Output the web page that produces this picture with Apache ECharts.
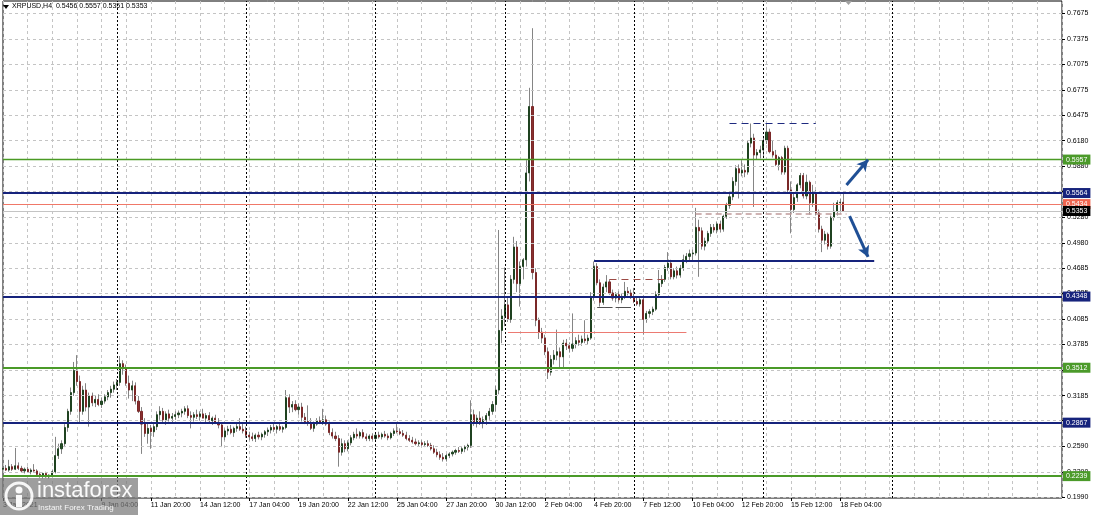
<!DOCTYPE html>
<html><head><meta charset="utf-8">
<script src="https://cdn.jsdelivr.net/npm/echarts@6/dist/echarts.min.js"></script>
<style>html,body{margin:0;padding:0;background:#fff;}#c{width:1095px;height:515px;}</style>
</head><body><div id="c"></div>
<script>
// ---------- DATA ----------
const symbolName = 'XRPUSD,H4';
const lastQuote = ['0.5456', '0.5557', '0.5351', '0.5353'];
const startTimeUTC = Date.UTC(2021, 0, 3, 20, 0);   // first visible H4 bar
const barHours = 4;
const totalBars = 345;                               // visible slots incl. right shift area

// H4 candles: [open, high, low, close]
const candles = [
[.232,.236,.229,.233],[.233,.237,.230,.231],[.231,.243,.229,.235],[.235,.238,.230,.232],[.232,.257,.231,.236],
[.236,.240,.231,.233],[.233,.236,.228,.230],[.230,.234,.227,.232],[.232,.235,.228,.229],[.229,.233,.226,.231],
[.231,.238,.229,.230],[.230,.232,.224,.226],[.226,.229,.222,.224],[.224,.228,.221,.227],[.227,.229,.222,.223],
[.223,.226,.221,.225],[.225,.231,.223,.229],[.229,.270,.227,.248],[.248,.262,.244,.256],[.256,.266,.250,.262],
[.262,.285,.258,.281],[.281,.303,.276,.300],[.300,.328,.296,.322],[.322,.358,.318,.348],[.348,.366,.330,.335],
[.335,.342,.287,.300],[.300,.330,.296,.325],[.325,.333,.300,.305],[.305,.322,.282,.318],[.318,.322,.306,.310],
[.310,.318,.305,.314],[.314,.320,.306,.308],[.308,.316,.304,.312],[.312,.320,.309,.317],[.317,.325,.313,.322],
[.322,.330,.316,.326],[.326,.335,.322,.331],[.331,.338,.325,.334],[.334,.365,.330,.356],[.356,.360,.343,.350],
[.350,.355,.330,.333],[.333,.342,.315,.325],[.325,.336,.312,.330],[.330,.334,.308,.312],[.312,.318,.298,.300],
[.300,.305,.250,.285],[.285,.292,.270,.274],[.274,.286,.262,.280],[.280,.284,.256,.276],[.276,.285,.270,.282],
[.282,.300,.278,.296],[.296,.306,.290,.300],[.300,.304,.286,.290],[.290,.300,.284,.297],[.297,.302,.288,.292],
[.292,.298,.286,.294],[.294,.300,.290,.296],[.296,.301,.292,.298],[.298,.303,.293,.300],[.300,.306,.296,.303],
[.303,.307,.292,.295],[.295,.300,.280,.293],[.293,.299,.288,.296],[.296,.302,.291,.294],[.294,.300,.289,.297],
[.297,.303,.292,.292],[.292,.298,.287,.295],[.295,.299,.286,.289],[.289,.294,.284,.292],[.292,.296,.285,.287],
[.287,.292,.280,.284],[.284,.287,.258,.270],[.270,.280,.266,.277],[.277,.283,.272,.279],[.279,.284,.273,.275],
[.275,.282,.270,.280],[.280,.286,.276,.282],[.282,.292,.277,.279],[.279,.285,.274,.277],[.277,.282,.269,.272],
[.272,.276,.266,.270],[.270,.275,.265,.268],[.268,.274,.264,.272],[.272,.276,.267,.270],[.270,.275,.266,.273],
[.273,.278,.269,.276],[.276,.281,.271,.278],[.278,.284,.274,.281],[.281,.286,.276,.279],[.279,.284,.274,.282],
[.282,.286,.277,.279],[.279,.283,.275,.281],[.281,.325,.279,.316],[.316,.320,.298,.305],[.305,.312,.299,.308],
[.308,.313,.300,.302],[.302,.309,.296,.305],[.305,.310,.288,.293],[.293,.298,.285,.288],[.288,.307,.283,.286],
[.286,.292,.278,.280],[.280,.288,.276,.285],[.285,.292,.283,.289],[.289,.294,.285,.287],[.287,.303,.284,.290],
[.290,.295,.283,.285],[.285,.288,.272,.275],[.275,.280,.268,.271],[.271,.276,.265,.268],[.268,.272,.235,.252],
[.252,.268,.248,.262],[.262,.266,.252,.256],[.256,.266,.253,.263],[.263,.272,.260,.269],[.269,.276,.266,.273],
[.273,.280,.268,.271],[.271,.277,.268,.275],[.275,.279,.268,.270],[.270,.274,.265,.268],[.268,.273,.265,.271],
[.271,.274,.266,.268],[.268,.275,.266,.272],[.272,.276,.268,.270],[.270,.275,.267,.273],[.273,.277,.269,.271],
[.271,.274,.266,.269],[.269,.276,.267,.274],[.274,.280,.271,.277],[.277,.285,.274,.276],[.276,.280,.272,.274],
[.274,.278,.270,.272],[.272,.276,.266,.268],[.268,.272,.264,.266],[.266,.270,.262,.264],[.264,.268,.260,.262],
[.262,.266,.259,.263],[.263,.266,.259,.261],[.261,.265,.258,.262],[.262,.266,.258,.260],[.260,.263,.254,.256],
[.256,.260,.250,.252],[.252,.256,.246,.249],[.249,.253,.243,.246],[.246,.251,.241,.244],[.244,.250,.241,.248],
[.248,.252,.245,.250],[.250,.254,.247,.252],[.252,.256,.249,.254],[.254,.258,.251,.253],[.253,.258,.250,.256],
[.256,.260,.252,.258],[.258,.262,.254,.260],[.260,.313,.257,.296],[.296,.302,.283,.286],[.286,.296,.281,.292],
[.292,.300,.284,.287],[.287,.294,.280,.290],[.290,.298,.284,.295],[.295,.304,.290,.300],[.300,.312,.296,.308],
[.308,.330,.300,.325],[.325,.513,.320,.395],[.395,.420,.380,.412],[.412,.469,.400,.425],[.425,.433,.405,.408],
[.408,.460,.404,.455],[.455,.505,.450,.493],[.493,.500,.440,.450],[.450,.476,.423,.470],[.470,.480,.455,.478],
[.478,.595,.470,.580],[.580,.680,.570,.658],[.658,.750,.455,.463],[.463,.468,.400,.407],[.407,.410,.385,.393],
[.393,.398,.380,.386],[.386,.390,.366,.370],[.370,.375,.338,.346],[.346,.366,.342,.361],[.361,.372,.355,.366],
[.366,.396,.360,.370],[.370,.375,.352,.364],[.364,.384,.352,.380],[.380,.385,.372,.377],[.377,.381,.369,.374],
[.374,.415,.370,.379],[.379,.387,.374,.383],[.383,.390,.377,.381],[.381,.389,.377,.385],[.385,.407,.380,.383],
[.383,.390,.379,.386],[.386,.440,.384,.434],[.434,.476,.430,.470],[.470,.474,.448,.451],[.451,.455,.423,.428],
[.428,.450,.425,.446],[.446,.460,.440,.452],[.452,.455,.437,.439],[.439,.443,.430,.433],[.433,.440,.428,.437],
[.437,.441,.428,.431],[.431,.438,.427,.435],[.435,.452,.432,.441],[.441,.446,.436,.439],[.439,.443,.432,.434],
[.434,.445,.427,.429],[.429,.434,.424,.426],[.426,.433,.423,.431],[.431,.436,.390,.408],[.408,.418,.404,.415],
[.415,.420,.410,.417],[.417,.423,.413,.420],[.420,.441,.418,.437],[.437,.466,.434,.450],[.450,.460,.446,.455],
[.455,.472,.452,.469],[.469,.487,.465,.474],[.474,.478,.455,.458],[.458,.468,.455,.465],[.465,.470,.456,.460],
[.460,.472,.457,.468],[.468,.484,.465,.478],[.478,.486,.474,.482],[.482,.490,.476,.485],[.485,.490,.477,.486],
[.486,.539,.483,.516],[.516,.525,.458,.512],[.512,.516,.490,.494],[.494,.504,.489,.500],[.500,.512,.497,.509],
[.509,.520,.505,.516],[.516,.520,.510,.513],[.513,.523,.509,.520],[.520,.524,.510,.514],[.514,.531,.511,.529],
[.529,.545,.526,.542],[.542,.556,.538,.552],[.552,.575,.548,.570],[.570,.589,.565,.585],[.585,.590,.550,.580],
[.580,.595,.576,.583],[.583,.590,.575,.581],[.581,.618,.578,.615],[.615,.638,.610,.621],[.621,.626,.540,.601],
[.601,.608,.596,.604],[.604,.612,.597,.607],[.607,.622,.600,.618],[.618,.638,.614,.628],[.628,.632,.603,.605],
[.605,.618,.598,.601],[.601,.607,.588,.590],[.590,.600,.583,.598],[.598,.600,.578,.581],[.581,.612,.578,.609],
[.609,.612,.556,.560],[.560,.570,.509,.537],[.537,.556,.533,.551],[.551,.568,.546,.566],[.566,.580,.562,.577],
[.577,.580,.550,.553],[.553,.578,.549,.569],[.569,.571,.531,.545],[.545,.566,.540,.557],[.557,.560,.530,.533],
[.533,.537,.510,.514],[.514,.518,.487,.501],[.501,.512,.496,.508],[.508,.510,.490,.494],[.494,.530,.491,.528],
[.528,.545,.524,.535],[.535,.548,.530,.545],[.545,.550,.535,.5456],[.5456,.5557,.5351,.5353]
];

// right price scale tick labels
const priceTicks = [0.7675,0.7375,0.7075,0.6775,0.6475,0.6180,0.5880,0.5580,0.5280,0.4980,0.4685,
                    0.4385,0.4085,0.3785,0.3485,0.3185,0.2890,0.2590,0.2290,0.1990];
const priceMin = 0.1982, priceMax = 0.78195;

// horizontal levels drawn across the chart (value, kind)
const levelPrices = [0.5957, 0.5564, 0.5434, 0.5353, 0.4348, 0.3512, 0.2867, 0.2239];
const levelKinds  = ['green1','navy','ask','bid','navy','green2','navy','green2'];

// drawn trend segments: price, start bar, end bar, kind
const segPrices = [0.4765, 0.6385, 0.5326, 0.455, 0.3924, 0.4225, 0.4225];
const segStart  = [192, 236, 225, 197, 164, 193, 199];
const segEnd    = [283, 264, 274, 215, 222, 198, 204];
const segKinds  = ['navyThick','navyDash','roseDash','brownDash','red','grey','grey'];

// arrows: [bar, price] -> [bar, price]
const arrowFrom = [[274.3, 0.5658], [274.6, 0.5294]];
const arrowTo   = [[280.5, 0.5955], [280.5, 0.4813]];

// weekly separators (Sunday 00:00 bars)
const weekSeparators = [37, 79, 121, 163, 205, 247, 289];

// ---------- BUILD ----------
const MON = ['Jan','Feb','Mar','Apr','May','Jun','Jul','Aug','Sep','Oct','Nov','Dec'];
const pad = n => (n < 10 ? '0' : '') + n;
const cats = [];
for (let i = 0; i < totalBars; i++) {
  const d = new Date(startTimeUTC + i * barHours * 3600000);
  cats.push(d.getUTCDate() + ' ' + MON[d.getUTCMonth()] + ' ' + pad(d.getUTCHours()) + ':' + pad(d.getUTCMinutes()));
}
const lastLabelBar = candles.length - 2;
const showLabel = idx => idx === 0 || (idx >= 32 && idx <= lastLabelBar && idx % 16 === 0);

const wickData = candles.map(c => [c[0], c[3], c[2], c[1]]);
const bodyData = candles.map(c => [c[0], c[3], Math.min(c[0], c[3]), Math.max(c[0], c[3])]);

const FONT = '"Liberation Sans", Arial, sans-serif';
const levelStyle = {
  green1: {color:'#4a9a24', width:1.3, box:'#4b9a2a'},
  green2: {color:'#4a9a28', width:2, box:'#4b9a2a'},
  navy:   {color:'#16237c', width:2, box:'#16237c'},
  ask:    {color:'#f07868', width:1.2, box:'#ef6650'},
  bid:    {color:'#c4c4c4', width:1, box:'#000000'}
};
const segStyle = {
  navyThick: {color:'#16237c', width:2, type:'solid'},
  navyDash:  {color:'#1e2a80', width:1, type:[7,5]},
  roseDash:  {color:'#c09a9a', width:1.5, type:[6,4]},
  brownDash: {color:'#9c4a44', width:1, type:[7,5]},
  red:       {color:'#ec7a72', width:1, type:'solid'},
  grey:      {color:'#505050', width:1, type:'solid'}
};

const gridLines = priceTicks.map(v => ({yAxis: v}));
const sepLines = weekSeparators.map(i => ({xAxis: i}));

const levelLines = levelPrices.map((v, k) => {
  const s = levelStyle[levelKinds[k]];
  return {
    yAxis: v,
    lineStyle: {color: s.color, width: s.width, type: 'solid'},
    label: {show: true, position: 'end', distance: 1, formatter: v.toFixed(4),
      color: '#fff', backgroundColor: s.box, padding: [1, 3, 1, 3],
      fontSize: 7, fontFamily: FONT, lineHeight: 8}
  };
});
const segLines = segPrices.map((p, k) => {
  const s = segStyle[segKinds[k]];
  return [{coord: [segStart[k], p], lineStyle: {color: s.color, width: s.width, type: s.type}},
          {coord: [segEnd[k], p]}];
});
const arrowLines = arrowFrom.map((f, k) => [
  {coord: f, symbol: 'none', lineStyle: {color: '#1f4f95', width: 3, type: 'solid'}},
  {coord: arrowTo[k], symbol: 'arrow', symbolSize: [9, 11]}
]);

const chart = echarts.init(document.getElementById('c'), null, {renderer: 'canvas'});
chart.setOption({
  animation: false,
  backgroundColor: '#ffffff',
  grid: {left: 1, right: 33, top: 1, bottom: 17, show: true, borderColor: '#000', borderWidth: 1, backgroundColor: 'transparent'},
  xAxis: {
    type: 'category', data: cats, boundaryGap: false,
    axisLine: {show: false},
    axisTick: {show: true, interval: i => showLabel(i), length: 3, lineStyle: {color: '#000'}},
    axisLabel: {interval: i => showLabel(i), align: 'left', margin: 4, fontSize: 7, fontFamily: FONT, color: '#000',
      formatter: (v, i) => i === 0 ? v.split(' ').slice(0, 2).join(' ') + ' 2021' : v},
    splitLine: {show: true, interval: i => i % 8 === 0, lineStyle: {color: '#c4c4c4', width: 1, type: [3, 3]}}
  },
  yAxis: {
    type: 'value', position: 'right', min: priceMin, max: priceMax, scale: true,
    axisLine: {show: false},
    axisTick: {show: true, customValues: priceTicks, length: 3, lineStyle: {color: '#000'}},
    axisLabel: {customValues: priceTicks, margin: 5, fontSize: 7, fontFamily: FONT, color: '#000', formatter: v => v.toFixed(4)},
    splitLine: {show: false}
  },
  series: [
    {type: 'line', data: [], z: 1, silent: true,
     markLine: {silent: true, symbol: 'none', animation: false, precision: 8, label: {show: false},
       lineStyle: {color: '#c4c4c4', width: 1, type: [3, 3]}, data: gridLines}},
    {type: 'line', data: [], z: 1, silent: true,
     markLine: {silent: true, symbol: 'none', animation: false, precision: 8, label: {show: false},
       lineStyle: {color: '#000', width: 1, type: [2, 2]}, data: sepLines}},
    {type: 'candlestick', name: 'wick', data: wickData, z: 3, barWidth: 1, silent: true,
     itemStyle: {color: '#858585', color0: '#858585', borderColor: '#858585', borderColor0: '#858585', borderWidth: 1}},
    {type: 'candlestick', name: 'body', data: bodyData, z: 4, barWidth: 1.6, silent: true,
     itemStyle: {color: '#28522a', color0: '#8a3030', borderColor: '#1f4220', borderColor0: '#7a2828', borderWidth: 1}},
    {type: 'line', data: [], z: 6, silent: true,
     markLine: {silent: true, symbol: 'none', animation: false, precision: 8, label: {show: false},
       data: levelLines.concat(segLines, arrowLines)}}
  ],
  graphic: [
    {type: 'polygon', shape: {points: [[3, 5], [9, 5], [6, 9]]}, style: {fill: '#000'}, z: 10},
    {type: 'text', left: 12, top: 3, z: 10,
     style: {text: symbolName + '  ' + lastQuote.join(' '), fill: '#000', font: '7px ' + FONT}},
    {type: 'polygon', shape: {points: [[845, 1], [852, 1], [848.5, 5]]}, style: {fill: '#a0a0a0'}, z: 10},
    {type: 'rect', shape: {x: 0, y: 478, width: 138, height: 37}, style: {fill: 'rgba(120,120,120,0.72)'}, z: 20},
    {type: 'circle', shape: {cx: 19, cy: 496, r: 13}, style: {fill: 'none', stroke: 'rgba(255,255,255,0.9)', lineWidth: 3}, z: 21},
    {type: 'circle', shape: {cx: 19, cy: 490, r: 3.5}, style: {fill: 'rgba(255,255,255,0.95)'}, z: 21},
    {type: 'rect', shape: {x: 16, y: 495, width: 6, height: 12}, style: {fill: 'rgba(255,255,255,0.95)'}, z: 21},
    {type: 'text', x: 37, y: 480, z: 21,
     style: {text: 'instaforex', fill: 'rgba(255,255,255,0.95)', font: '22px ' + FONT}},
    {type: 'text', x: 38, y: 504, z: 21,
     style: {text: 'Instant Forex Trading', fill: 'rgba(255,255,255,0.9)', font: '8px ' + FONT}}
  ]
});
</script>
</body></html>
